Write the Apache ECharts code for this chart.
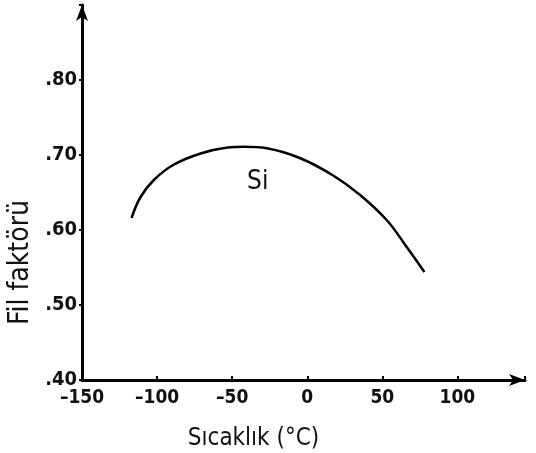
<!DOCTYPE html>
<html><head><meta charset="utf-8">
<script src="https://cdn.jsdelivr.net/npm/echarts@6/dist/echarts.min.js"></script>
<style>html,body{margin:0;padding:0;background:#fff}#c{width:536px;height:453px}</style>
</head><body><div id="c"></div>
<script>
const temperatures = [-117, -111, -102, -89, -71, -53, -42, -27, -5, 17, 35, 53, 66, 78];
const fillFactor = [0.616, 0.644, 0.667, 0.687, 0.702, 0.710, 0.711, 0.709, 0.696, 0.673, 0.647, 0.613, 0.578, 0.544];
const xTickValues = [-150, -100, -50, 0, 50, 100];
const xTickLabels = ['–150', '–100', '–50', '0', '50', '100'];
const yTickValues = [0.4, 0.5, 0.6, 0.7, 0.8];
const yTickLabels = ['.40', '.50', '.60', '.70', '.80'];
const seriesName = 'Si';
const xName = 'Sıcaklık (°C)';
const yName = 'Fil faktörü';

const font = '"DejaVu Sans Condensed", "DejaVu Sans", sans-serif';
function fmt(values, labels) {
  return function (v) {
    for (let i = 0; i < values.length; i++) if (Math.abs(values[i] - v) < 1e-6) return labels[i];
    return '';
  };
}
const chart = echarts.init(document.getElementById('c'), null, {renderer: 'canvas'});
chart.setOption({
  animation: false,
  backgroundColor: '#fff',
  grid: {left: 82, right: 11, top: 5, bottom: 73, containLabel: false, outerBoundsMode: 'none'},
  xAxis: {
    type: 'value', min: -150, max: 145, interval: 50,
    name: xName, nameLocation: 'middle', nameGap: 47,
    nameTextStyle: {fontFamily: font, fontSize: 24, color: '#111', padding: [0, 100, 0, 0]},
    axisLine: {show: true, onZero: false, symbol: ['none', 'arrow'], symbolSize: [9, 16], lineStyle: {color: '#000', width: 3}},
    axisTick: {show: true, inside: true, length: 4, lineStyle: {color: '#000', width: 2}},
    axisLabel: {formatter: fmt(xTickValues, xTickLabels), fontFamily: font, fontSize: 19, fontWeight: 'bold', color: '#111', margin: 9},
    splitLine: {show: false}
  },
  yAxis: {
    type: 'value', min: 0.4, max: 0.9, interval: 0.1,
    name: yName, nameLocation: 'middle', nameGap: 40, nameRotate: 90,
    nameTextStyle: {fontFamily: font, fontSize: 28, color: '#111', padding: [0, 140, 0, 0]},
    axisLine: {show: true, onZero: false, symbol: ['none', 'arrow'], symbolSize: [9, 16], lineStyle: {color: '#000', width: 3}},
    axisTick: {show: true, inside: false, length: 3, lineStyle: {color: '#000', width: 2}},
    axisLabel: {formatter: fmt(yTickValues, yTickLabels), fontFamily: font, fontSize: 20, fontWeight: 'bold', color: '#111', margin: 5},
    splitLine: {show: false}
  },
  series: [{
    type: 'line', name: seriesName,
    data: temperatures.map((t, i) => [t, fillFactor[i]]),
    smooth: 0.4, showSymbol: false, symbol: 'none',
    lineStyle: {color: '#000', width: 2.5},
    markPoint: {
      symbol: 'circle', symbolSize: 1, itemStyle: {color: 'rgba(0,0,0,0)'},
      label: {show: true, formatter: seriesName, fontFamily: font, fontSize: 26, color: '#111', position: 'inside'},
      data: [{coord: [-33, 0.664]}]
    }
  }]
});
</script></body></html>
